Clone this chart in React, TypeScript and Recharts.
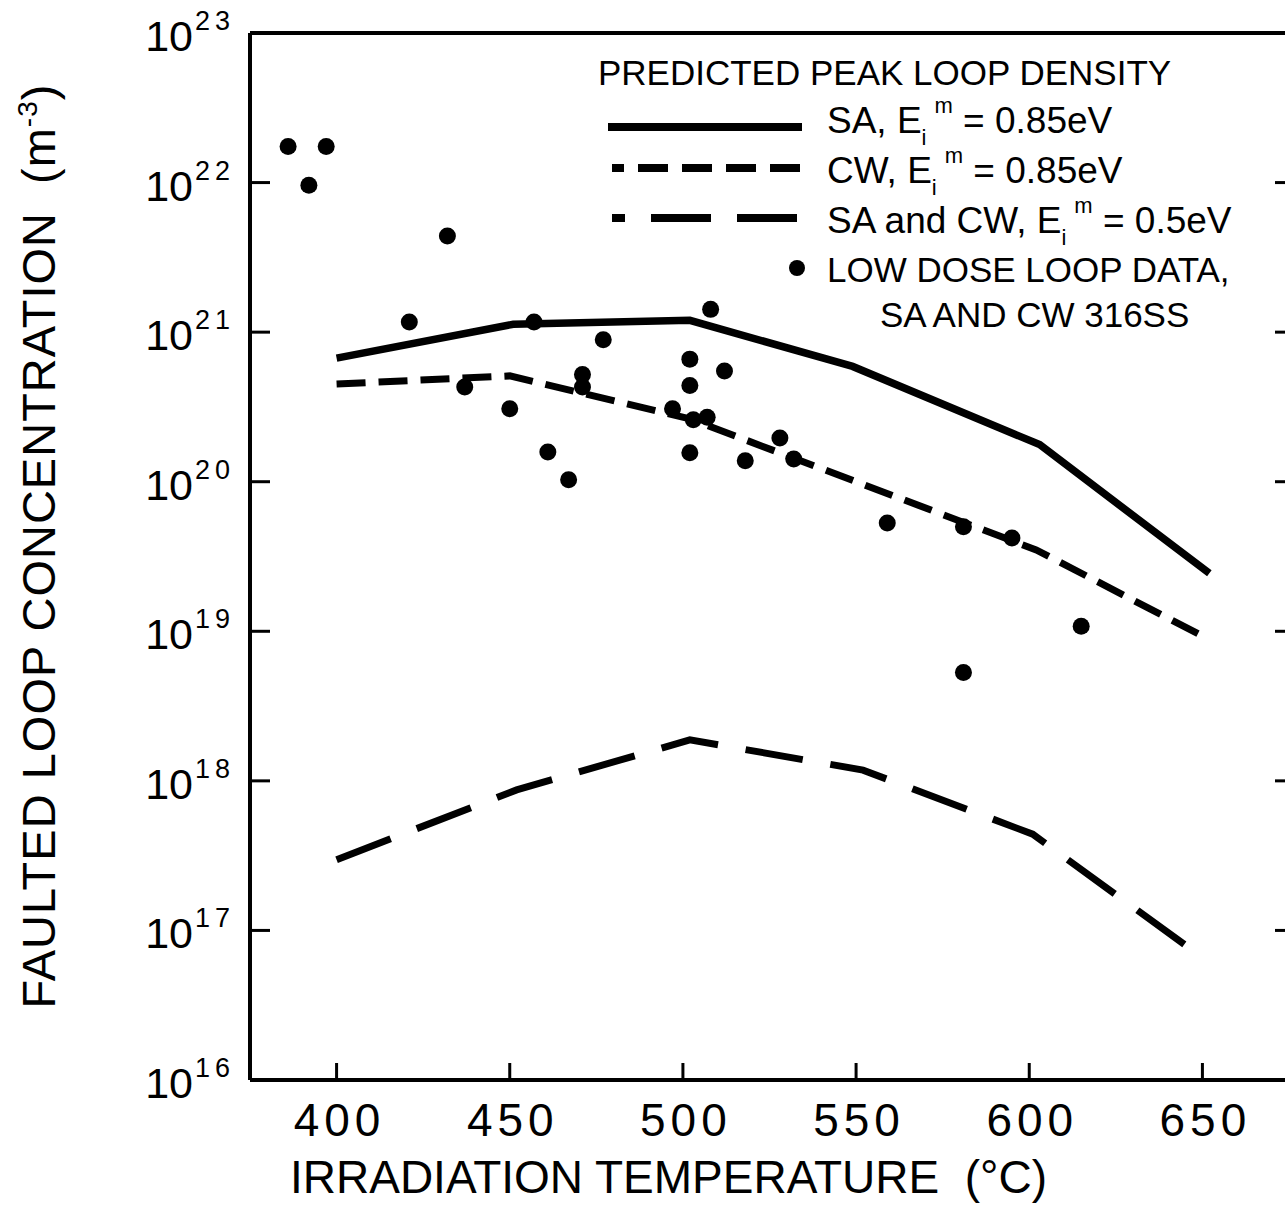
import React from "react";
import {
  ComposedChart,
  Line,
  Scatter,
  XAxis,
  YAxis,
  Legend,
  ReferenceLine,
} from "recharts";

const FONT = "'Liberation Sans', Arial, Helvetica, sans-serif";

// predicted peak loop density, SA, Ei^m = 0.85 eV
const saTemps = [400, 451, 502, 549, 603, 652];
const saConc = [6.7e20, 1.13e21, 1.2e21, 5.9e20, 1.77e20, 2.44e19];

// predicted peak loop density, CW, Ei^m = 0.85 eV
const cwTemps = [400, 450, 502, 550, 602, 650];
const cwConc = [4.5e20, 5.1e20, 2.63e20, 1.0e20, 3.5e19, 9.3e18];

// predicted peak loop density, SA and CW, Ei^m = 0.5 eV
const lowTemps = [400, 452, 502, 552, 601, 647];
const lowConc = [2.97e17, 8.7e17, 1.88e18, 1.18e18, 4.4e17, 7.4e16];

// low dose loop data, SA and CW 316SS
const dataTemps = [
  386, 397, 392, 432, 421, 457, 477, 508, 502, 512, 502, 471, 471, 437, 450,
  461, 467, 497, 503, 507, 502, 518, 528, 532, 559, 581, 595, 615, 581,
];
const dataConc = [
  1.74e22, 1.74e22, 9.6e21, 4.4e21, 1.17e21, 1.17e21, 8.9e20, 1.42e21, 6.6e20,
  5.5e20, 4.4e20, 5.2e20, 4.3e20, 4.3e20, 3.07e20, 1.58e20, 1.03e20, 3.07e20,
  2.6e20, 2.7e20, 1.56e20, 1.38e20, 1.96e20, 1.42e20, 5.3e19, 5.0e19, 4.2e19,
  1.08e19, 5.3e18,
];

const xTicks = [400, 450, 500, 550, 600, 650];
const yTicks = [1e16, 1e17, 1e18, 1e19, 1e20, 1e21, 1e22, 1e23];

const zip = (ts: number[], vs: number[]) => ts.map((t, i) => ({ t, v: vs[i] }));

const saData = zip(saTemps, saConc);
const cwData = zip(cwTemps, cwConc);
const lowData = zip(lowTemps, lowConc);
const loopData = zip(dataTemps, dataConc);

const YTick = (props: any) => {
  const { x, y, payload } = props;
  const exp = Math.round(Math.log10(payload.value));
  return (
    <g fontFamily={FONT} fill="#000">
      <line x1={x} x2={x + 20} y1={y} y2={y} stroke="#000" strokeWidth={3} />
      <text x={x - 57} y={y + 18} textAnchor="end" fontSize={43}>
        10
      </text>
      <text x={x - 55} y={y - 3} textAnchor="start" fontSize={27} letterSpacing={5}>
        {exp}
      </text>
    </g>
  );
};

const RightTick = (props: any) => {
  const { x, y } = props;
  return <line x1={x} x2={x - 14} y1={y} y2={y} stroke="#000" strokeWidth={3} />;
};

const XTick = (props: any) => {
  const { x, y, payload } = props;
  return (
    <g fontFamily={FONT} fill="#000">
      <line x1={x} x2={x} y1={y} y2={y - 17} stroke="#000" strokeWidth={3} />
      <text x={x + 3} y={y + 56} textAnchor="middle" fontSize={46} letterSpacing={5}>
        {payload.value}
      </text>
    </g>
  );
};

const XTitle = (props: any) => {
  const vb = props.viewBox || { x: 250, y: 1080 };
  return (
    <text x={vb.x + 40} y={vb.y + 113} fontFamily={FONT} fontSize={46} fill="#000">
      IRRADIATION TEMPERATURE{"\u00a0"} (°C)
    </text>
  );
};

const YTitle = () => {
  const cx = 55;
  const cy = 546;
  return (
    <text
      x={cx}
      y={cy}
      transform={`rotate(-90, ${cx}, ${cy})`}
      textAnchor="middle"
      fontFamily={FONT}
      fontSize={47}
      letterSpacing={1}
      fill="#000"
    >
      FAULTED LOOP CONCENTRATION{"\u00a0"} (m
      <tspan dy={-18} fontSize={28}>
        -3
      </tspan>
      <tspan dy={18}>)</tspan>
    </text>
  );
};

const Dot = (props: any) => <circle cx={props.cx} cy={props.cy} r={8.5} fill="#000" />;

// legend drawn in its own svg, origin at page (590, 40)
const LegendBox = () => {
  const ox = 590;
  const oy = 40;
  const row = (label: string, tail: string, base: number) => (
    <text x={827 - ox} y={base - oy} fontSize={37}>
      {label}
      <tspan dy={12} fontSize={22}>
        i
      </tspan>
      <tspan dx={8} dy={-32} fontSize={22}>
        m
      </tspan>
      <tspan dy={20} fontSize={37}>
        {tail}
      </tspan>
    </text>
  );
  return (
    <svg width={700} height={310} style={{ overflow: "visible" }} fontFamily={FONT} fill="#000">
      <text x={598 - ox} y={85 - oy} fontSize={35}>
        PREDICTED PEAK LOOP DENSITY
      </text>
      <line x1={608 - ox} x2={802 - ox} y1={127 - oy} y2={127 - oy} stroke="#000" strokeWidth={8} />
      {row("SA, E", " = 0.85eV", 133)}
      <line
        x1={612 - ox}
        x2={800 - ox}
        y1={168 - oy}
        y2={168 - oy}
        stroke="#000"
        strokeWidth={8}
        strokeDasharray="30 14"
        strokeDashoffset={18}
      />
      {row("CW, E", " = 0.85eV", 183)}
      <line
        x1={612 - ox}
        x2={798 - ox}
        y1={218 - oy}
        y2={218 - oy}
        stroke="#000"
        strokeWidth={8}
        strokeDasharray="60 26"
        strokeDashoffset={47}
      />
      {row("SA  and CW, E", " = 0.5eV", 233)}
      <circle cx={797 - ox} cy={268 - oy} r={8} fill="#000" />
      <text x={827 - ox} y={282 - oy} fontSize={35}>
        LOW DOSE LOOP DATA,
      </text>
      <text x={880 - ox} y={327 - oy} fontSize={35}>
        SA AND CW 316SS
      </text>
    </svg>
  );
};

export default function App() {
  return (
    <div
      style={{
        position: "fixed",
        left: 0,
        top: 0,
        width: 1285,
        height: 1208,
        overflow: "hidden",
        background: "#fff",
      }}
    >
      <ComposedChart
        width={1300}
        height={1208}
        margin={{ top: 33, right: 0, bottom: 0, left: 0 }}
      >
        <XAxis
          dataKey="t"
          type="number"
          domain={[375, 675]}
          allowDataOverflow
          ticks={xTicks}
          interval={0}
          height={128}
          tickSize={0}
          tickMargin={0}
          tick={<XTick />}
          axisLine={{ stroke: "#000", strokeWidth: 4 }}
          label={XTitle}
        />
        <YAxis
          type="number"
          scale="log"
          domain={[1e16, 1e23]}
          allowDataOverflow
          ticks={yTicks}
          interval={0}
          width={250}
          tickSize={0}
          tickMargin={0}
          tick={<YTick />}
          axisLine={{ stroke: "#000", strokeWidth: 4 }}
          label={YTitle}
        />
        <YAxis
          yAxisId="r"
          orientation="right"
          type="number"
          scale="log"
          domain={[1e16, 1e23]}
          allowDataOverflow
          ticks={yTicks}
          interval={0}
          width={11}
          tickSize={0}
          tickMargin={0}
          tick={<RightTick />}
          axisLine={{ stroke: "#000", strokeWidth: 4 }}
        />
        <ReferenceLine y={1e23} stroke="#000" strokeWidth={4} />
        <Line
          data={saData}
          dataKey="v"
          type="linear"
          stroke="#000"
          strokeWidth={7.5}
          dot={false}
          isAnimationActive={false}
        />
        <Line
          data={cwData}
          dataKey="v"
          type="linear"
          stroke="#000"
          strokeWidth={7}
          strokeDasharray="29 13"
          dot={false}
          isAnimationActive={false}
        />
        <Line
          data={lowData}
          dataKey="v"
          type="linear"
          stroke="#000"
          strokeWidth={7}
          strokeDasharray="58 28"
          dot={false}
          isAnimationActive={false}
        />
        <Scatter data={loopData} dataKey="v" shape={Dot} isAnimationActive={false} />
        <Legend
          layout="vertical"
          align="center"
          verticalAlign="middle"
          content={() => <LegendBox />}
          wrapperStyle={{ left: 590, top: 40, width: 700, height: 310 }}
        />
      </ComposedChart>
    </div>
  );
}
